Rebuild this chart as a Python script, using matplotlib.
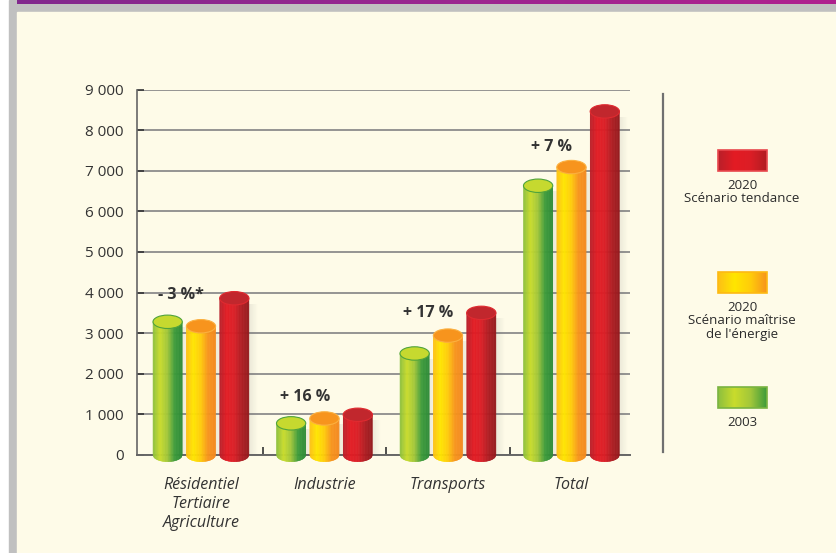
import numpy as np
import matplotlib.pyplot as plt
from matplotlib.patches import Ellipse, Rectangle
from matplotlib.collections import PolyCollection
from matplotlib.colors import LinearSegmentedColormap

plt.rcParams['font.family'] = ['Open Sans', 'DejaVu Sans']

categories = ["Résidentiel\nTertiaire\nAgriculture", "Industrie", "Transports", "Total"]
val_2003 = [3280, 780, 2500, 6630]
val_maitrise = [3170, 900, 2940, 7090]
val_tendance = [3860, 990, 3500, 8460]
pct_labels = ["- 3 %*", "+ 16 %", "+ 17 %", "+ 7 %"]
yticks = [0, 1000, 2000, 3000, 4000, 5000, 6000, 7000, 8000, 9000]
ytick_labels = ["0", "1 000", "2 000", "3 000", "4 000", "5 000", "6 000", "7 000", "8 000", "9 000"]
legend_labels = ["2020\nScénario tendance", "2020\nScénario maîtrise\nde l'énergie", "2003"]

# gradient (left -> right), top ellipse colour, top edge colour
green = (['#8cbf3f', '#c9dc2c', '#a2c73a', '#3d9b3b', '#2f8c38'], '#c6d92f', '#4fa33c')
orange = (['#fdbf16', '#ffe600', '#ffcc0a', '#f7941d', '#f48a1f'], '#f7941d', '#fbb040')
red = (['#b8202a', '#e31b23', '#dc1e26', '#b01c22', '#951a1e'], '#c1272d', '#e02a30')

def cmap_of(cols):
    return LinearSegmentedColormap.from_list('g', cols)

W, H = 837, 553
fig = plt.figure(figsize=(W / 100, H / 100), dpi=100, facecolor='white')

# page background
bg = fig.add_axes([0, 0, 1, 1], zorder=-5)
bg.axis('off')
bg.add_patch(Rectangle((9, 0), W - 9, H, color='#c0c0c0', zorder=0))
bg.add_patch(Rectangle((17, 12), W - 17, H - 12, color='#fefbe8', zorder=0))
grad = np.linspace(0, 1, 256).reshape(1, -1)
bg.imshow(grad, cmap=cmap_of(['#82298d', '#9a2690', '#b0208e']), aspect='auto',
          extent=[17, W, 4.5, 0], zorder=1)

# legend
leg_items = [(legend_labels[0], red, 150), (legend_labels[1], orange, 272), (legend_labels[2], green, 387)]
edge_cols = ['#e8484e', '#fdb913', '#7ab342']
for (lab, st, y0), ec in zip(leg_items, edge_cols):
    bg.imshow(grad, cmap=cmap_of(st[0][:4]), aspect='auto', extent=[718, 767, y0 + 21, y0], zorder=2)
    bg.add_patch(Rectangle((718, y0), 49, 21, fill=False, edgecolor=ec, lw=1.2, zorder=3))
    bg.text(742, y0 + 29, lab, ha='center', va='top', fontsize=9.5, color='#2b2b2b',
            linespacing=1.05, zorder=3)
bg.plot([663, 663], [94, 452], color='#707070', lw=1.6, zorder=3)
bg.set_xlim(0, W)
bg.set_ylim(H, 0)

# main chart
ax = fig.add_axes([137 / W, 1 - 455 / H, (630 - 137) / W, (455 - 89.5) / H])
ax.set_facecolor('none')

x = np.arange(len(categories))
w = 0.237
off = 0.27
eh = 330
nslice = 48

def cylinder(xc, val, st):
    cm = cmap_of(st[0])
    edges = np.linspace(xc - w / 2, xc + w / 2, nslice + 1)
    def ybot(xx):
        u = np.clip((xx - xc) / (w / 2), -1, 1)
        return -eh / 2 * np.sqrt(1 - u ** 2)
    polys, cols = [], []
    for j in range(nslice):
        xa, xb = edges[j], edges[j + 1]
        polys.append([(xa, val), (xa, ybot(xa)), (xb, ybot(xb)), (xb, val)])
        cols.append(cm((j + 0.5) / nslice))
    ax.add_collection(PolyCollection(polys, facecolors=cols, edgecolors=cols, linewidths=0.3,
                                     zorder=3, clip_on=False))
    # soft shadow on the right
    sh = np.zeros((1, 64, 4))
    sh[..., :3] = 0.35
    sh[..., 3] = np.linspace(0.13, 0, 64)
    ax.imshow(sh, aspect='auto', extent=[xc + w / 2 - 0.01, xc + w / 2 + 0.07, 0, val - 150],
              zorder=2.5)
    ax.add_patch(Ellipse((xc, val), w, eh, facecolor=st[1], edgecolor=st[2], lw=0.8,
                         zorder=4, clip_on=False))

for i in range(len(categories)):
    cylinder(x[i] - off, val_2003[i], green)
    cylinder(x[i], val_maitrise[i], orange)
    cylinder(x[i] + off, val_tendance[i], red)

pct_offsets = [660, 540, 550, 500]
for i, lab in enumerate(pct_labels):
    top = max(val_2003[i], val_maitrise[i])
    ax.text(x[i] - 0.16, top + pct_offsets[i], lab, ha='center', va='center',
            fontsize=11.5, fontweight='bold', color='#333333', zorder=6)

ax.set_xlim(-0.518, 3.474)
ax.set_ylim(0, 9000)
ax.set_yticks(yticks)
ax.set_yticklabels(ytick_labels)
ax.set_xticks(x)
ax.set_xticklabels(categories, style='italic', linespacing=1.25)
ax.set_xticks([0.5, 1.5, 2.5], minor=True)
ax.tick_params(axis='y', direction='in', length=5, width=1.2, color='#333333',
               labelsize=11, labelcolor='#333333', pad=9.5)
ax.tick_params(axis='x', which='major', length=0, labelsize=11.5, labelcolor='#333333', pad=16)
ax.tick_params(axis='x', which='minor', direction='in', length=6, width=1.2, color='#333333')
ax.yaxis.grid(True, color='#8c8c8c', lw=1.3)
ax.set_axisbelow(True)
for s in ['top', 'right']:
    ax.spines[s].set_visible(False)
ax.spines['left'].set_color('#666666')
ax.spines['bottom'].set_color('#666666')
ax.spines['left'].set_linewidth(1.2)
ax.spines['bottom'].set_linewidth(1.4)

fig.savefig('out.png', dpi=100)
